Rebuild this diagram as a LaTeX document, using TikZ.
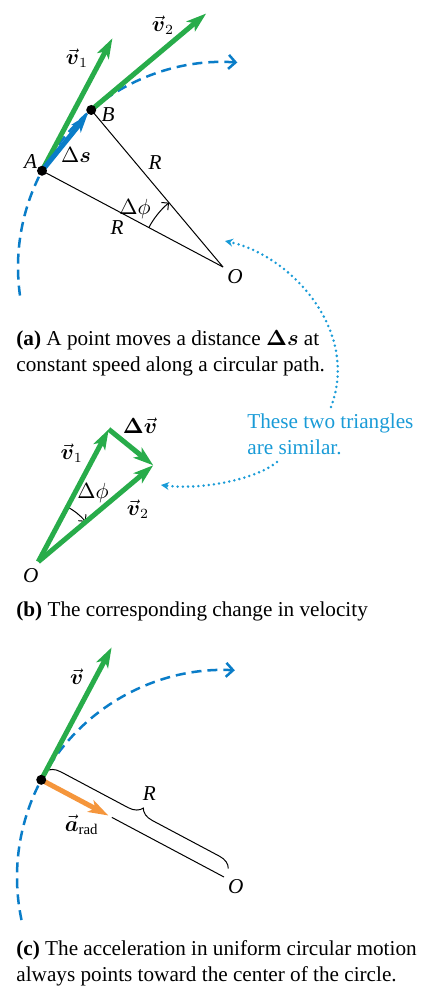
\documentclass[tikz,border=0pt]{standalone}
\usepackage{amsmath}
\usepackage{fontspec}
\setmainfont{Liberation Serif}
\usetikzlibrary{calc,arrows.meta,decorations.pathreplacing}

\definecolor{vecgreen}{RGB}{40,172,74}
\definecolor{pathblue}{RGB}{10,125,200}
\definecolor{noteblue}{RGB}{25,155,215}
\definecolor{accorange}{RGB}{245,150,60}

\begin{document}
\begin{tikzpicture}[x=0.5pt,y=0.5pt,
  font=\fontsize{10.6}{13}\selectfont,
  varrow/.style={line width=2.5pt, vecgreen, -{Stealth[length=10pt,width=6.5pt,inset=2.5pt]}},
  dsarrow/.style={line width=2.5pt, pathblue, shorten >=3pt, -{Stealth[length=9pt,width=6pt,inset=2.5pt]}},
  aarrow/.style={line width=2.5pt, accorange, -{Stealth[length=10pt,width=6.5pt,inset=2.5pt]}},
  patharc/.style={line width=1.25pt, pathblue, dash pattern=on 5pt off 3pt, -{Straight Barb[length=3.5pt,width=7pt]}},
  radline/.style={line width=0.5pt, black},
  anglearc/.style={line width=0.5pt, black, -{Straight Barb[length=2.5pt,width=5pt]}},
  hintline/.style={line width=1.4pt, noteblue, dash pattern=on 0pt off 2.6pt, line cap=round, -{Stealth[length=4pt,width=4pt]}},
  dot/.style={circle, fill=black, inner sep=0pt, minimum size=5pt},
  lbl/.style={inner sep=0pt},
  caption/.style={anchor=base west, inner sep=0pt, align=left},
]
\useasboundingbox (0,0) rectangle (421,-986);

% ---------- (a) point moving along the circle ----------
\coordinate (Oa) at (223,-267);
\coordinate (A) at ($(Oa)+(152:205)$);
\coordinate (B) at ($(Oa)+(130:205)$);
\coordinate (v1a) at ($(A)+(62:150)$);
\coordinate (v2a) at ($(B)+(40:150)$);

% dashed circular path
\draw[patharc] ($(Oa)+(188:205)$) arc (188:86:205);

% radii and angle
\draw[radline] (A) -- (Oa);
\draw[radline] (B) -- (Oa);
\draw[anglearc] ($(Oa)+(152:84)$) arc (152:130:84);

% velocity vectors and displacement
\draw[varrow] (A) -- (v1a);
\draw[varrow] (B) -- (v2a);
\draw[dsarrow] (A) -- (B);
\node[dot] (dotA) at (A) {};
\node[dot] (dotB) at (B) {};

\node[lbl] (lblA) at (30.7,-161.7) {\textit{A}};
\node[lbl] (lblB) at (108,-115) {\textit{B}};
\node[lbl] (lblds) at (76,-155) {$\Delta\boldsymbol{s}$};
\node[lbl] (lblRb) at (155,-163) {\textit{R}};
\node[lbl] (lblRa) at (117,-228) {\textit{R}};
\node[lbl] (lblphia) at (135,-209) {$\Delta\phi$};
\node[lbl] (lblOa) at (235,-277) {\textit{O}};
\node[lbl] (lblv1a) at (77,-58) {$\vec{\boldsymbol{v}}_1$};
\node[lbl] (lblv2a) at (163,-25) {$\vec{\boldsymbol{v}}_2$};

\node[caption] (capa) at (16,-371) {\textbf{(a)} A point moves a distance $\boldsymbol{\Delta s}$ at\\constant speed along a circular path.};

% ---------- note linking the two triangles ----------
\node[caption, noteblue] (note) at (247,-454) {These two triangles\\are similar.};
\coordinate (notetop) at (331,-407);
\coordinate (notebot) at (277,-462);
\coordinate (hinta) at (225,-241);
\coordinate (hintb) at (161,-485);
\draw[hintline] (notetop) .. controls (360,-330) and (290,-255) .. (hinta);
\draw[hintline] (notebot) .. controls (255,-480) and (200,-490) .. (hintb);

% ---------- (b) velocity triangle ----------
\coordinate (Ob) at (38.3,-561.7);
\coordinate (v1b) at ($(Ob)+(62:150)$);
\coordinate (v2b) at ($(Ob)+(40:150)$);

\draw[anglearc] ($(Ob)+(62:62)$) arc (62:40:62);
\draw[varrow] (Ob) -- (v1b);
\draw[varrow] (Ob) -- (v2b);
\draw[varrow] (v1b) -- (v2b);

\node[lbl] (lblv1b) at (71.7,-453) {$\vec{\boldsymbol{v}}_1$};
\node[lbl] (lbldv) at (140,-426) {$\boldsymbol{\Delta}\vec{\boldsymbol{v}}$};
\node[lbl] (lblv2b) at (138,-509) {$\vec{\boldsymbol{v}}_2$};
\node[lbl] (lblphib) at (93,-492.7) {$\Delta\phi$};
\node[lbl] (lblOb) at (30.7,-576) {\textit{O}};

\node[caption] (capb) at (16,-616) {\textbf{(b)} The corresponding change in velocity};

% ---------- (c) radial acceleration ----------
\coordinate (Oc) at (224,-877);
\coordinate (P) at ($(Oc)+(152:207)$);
\coordinate (vc) at ($(P)+(62:150)$);
\coordinate (ac) at ($(P)+(-28:76)$);
\coordinate (rc) at ($(P)+(-28:80)$);

\draw[patharc] ($(Oc)+(192:207)$) arc (192:87:207);
\draw[radline] (rc) -- (Oc);
\draw[radline, decorate, decoration={brace, amplitude=6.75pt}]
  ($(P)+(62:9.5)$) -- ($(Oc)+(62:9.5)$);
\draw[varrow] (P) -- (vc);
\draw[aarrow] (P) -- (ac);
\node[dot] (dotP) at (P) {};

\node[lbl] (lblvc) at (76.7,-676.7) {$\vec{\boldsymbol{v}}$};
\node[lbl] (lblarad) at (81.7,-825) {$\vec{\boldsymbol{a}}_{\mathrm{rad}}$};
\node[lbl] (lblRc) at (149.3,-794) {\textit{R}};
\node[lbl] (lblOc) at (235.7,-886.7) {\textit{O}};

\node[caption] (capc) at (16,-981.7) {\textbf{(c)} The acceleration in uniform circular motion\\always points toward the center of the circle.};

\end{tikzpicture}
\end{document}
